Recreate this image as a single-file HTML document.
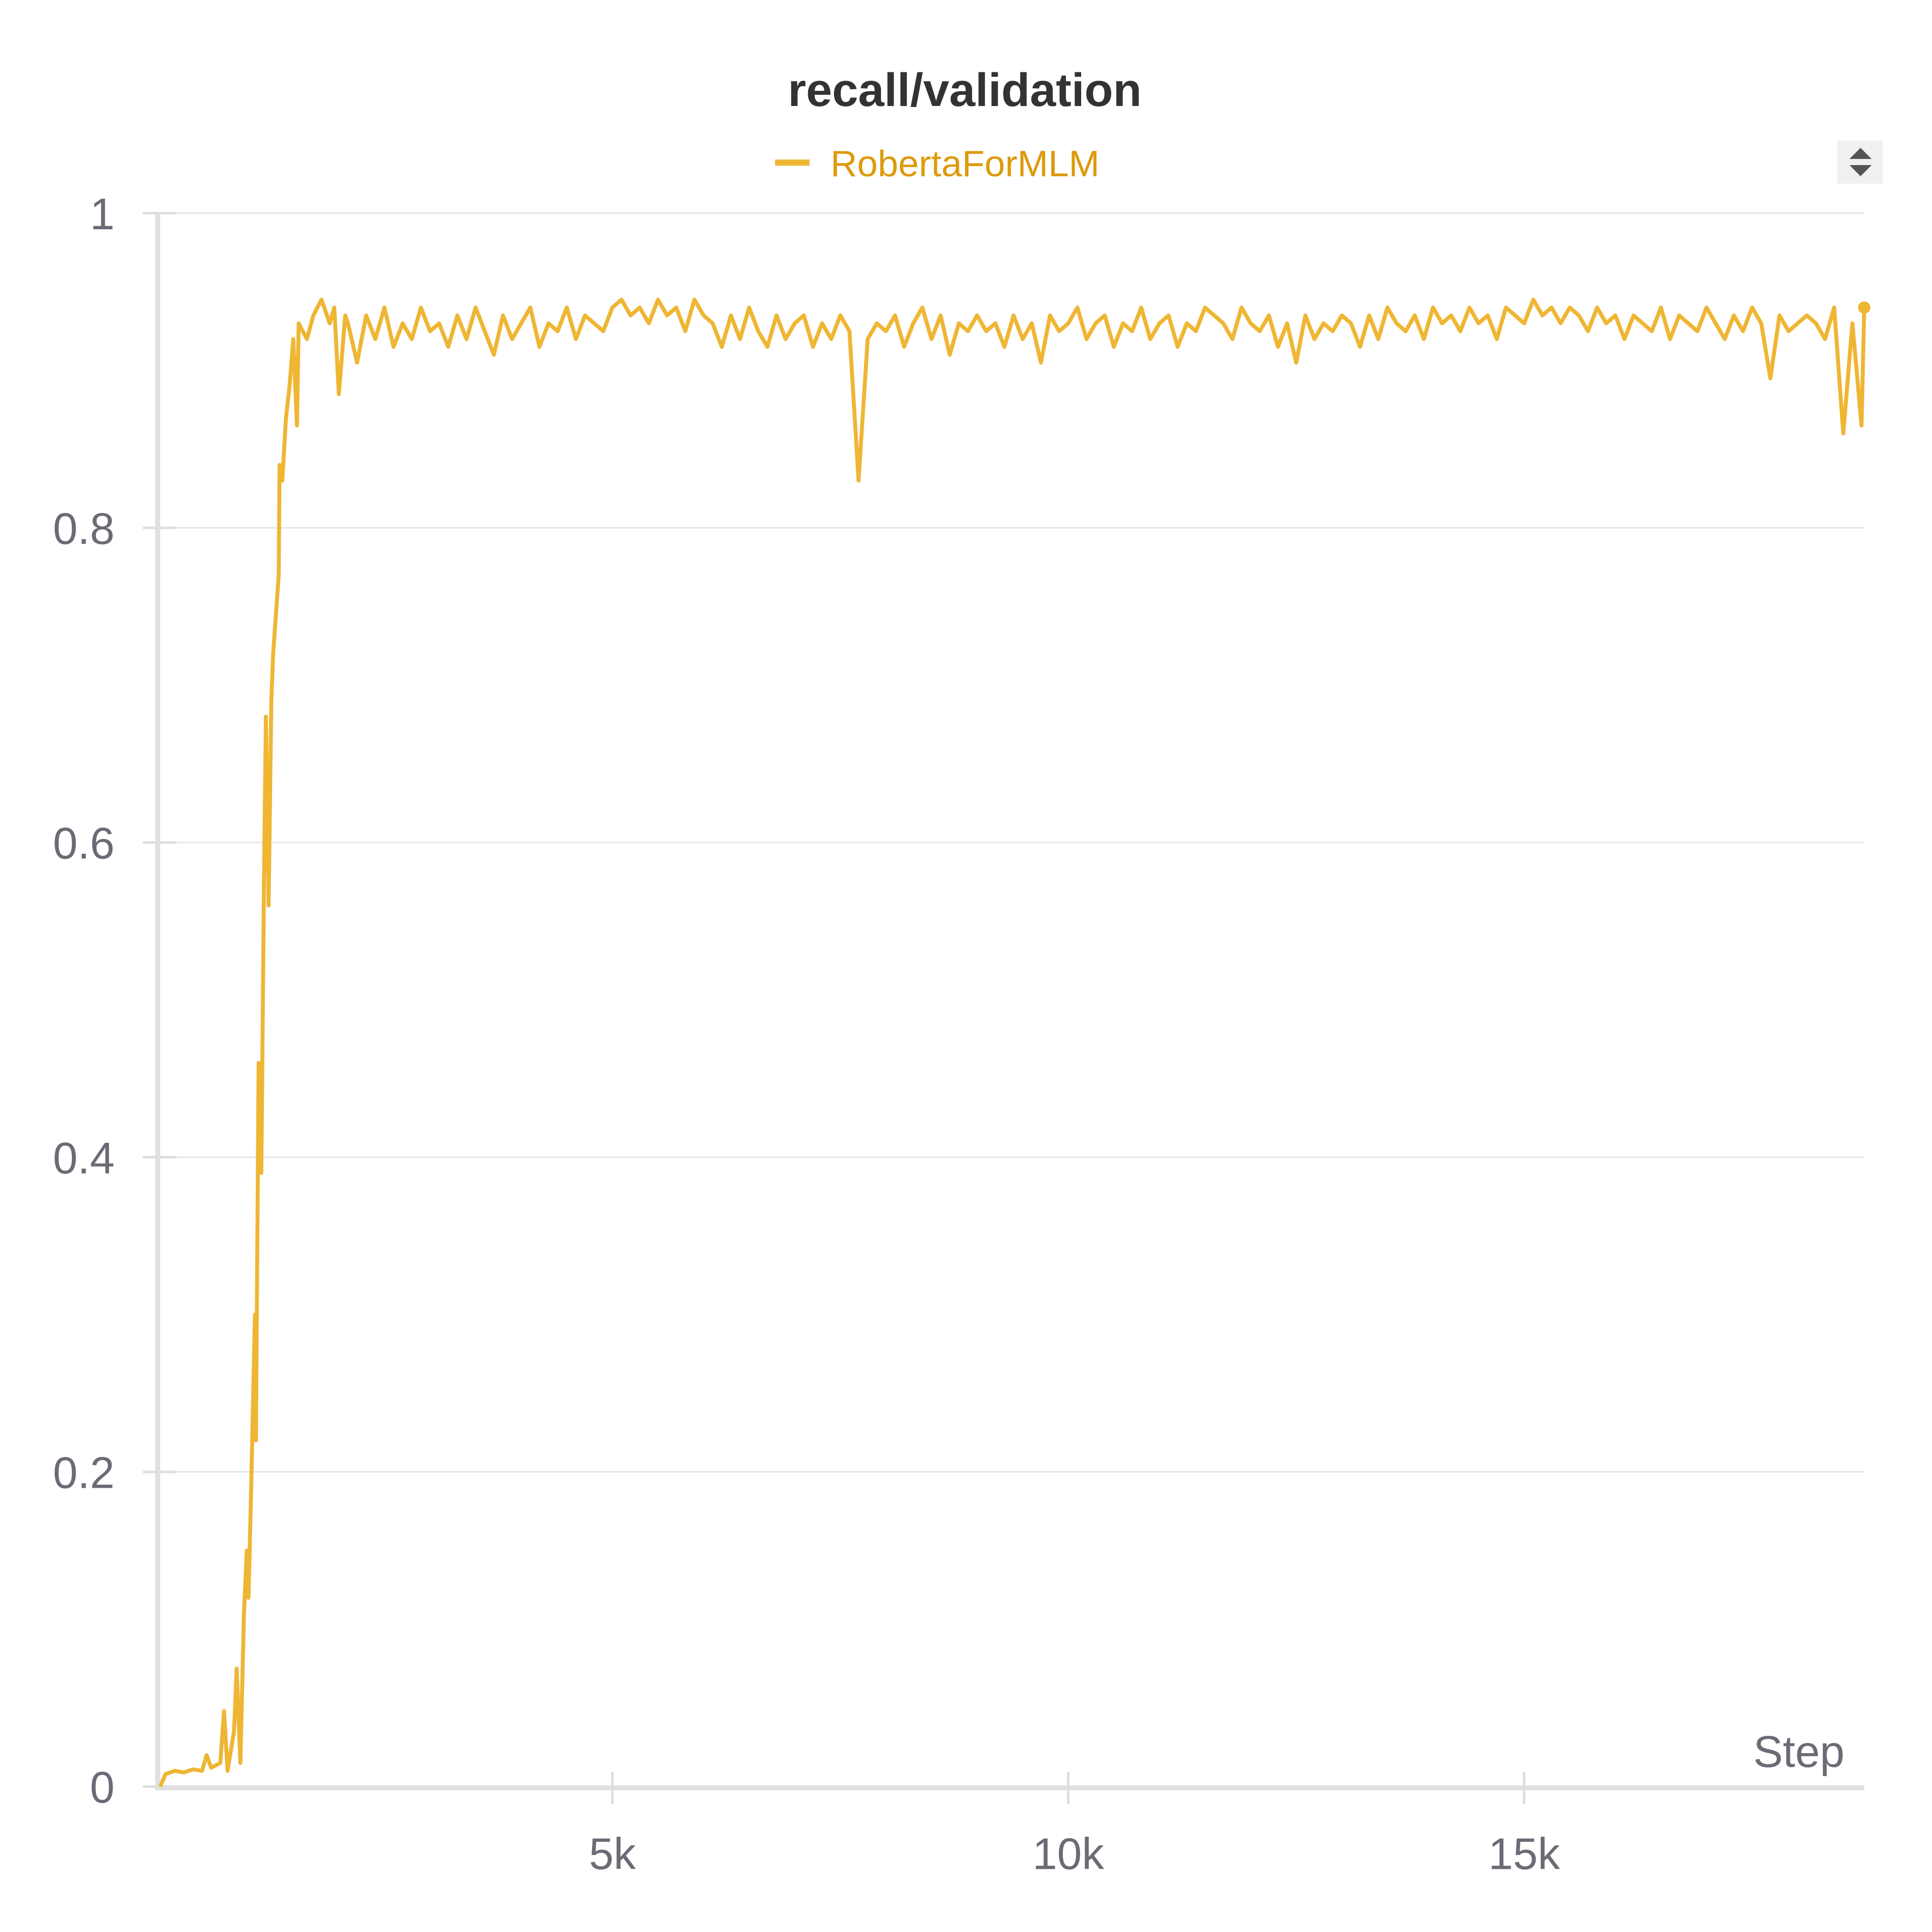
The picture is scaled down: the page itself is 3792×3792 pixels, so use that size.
<!DOCTYPE html>
<html><head><meta charset="utf-8"><style>
html,body{margin:0;padding:0;background:#fff;}
svg{display:block;}
text{font-family:"Liberation Sans",sans-serif;}
</style></head><body>
<svg id="chart" width="3792" height="3792" viewBox="0 0 1568 1568" xmlns="http://www.w3.org/2000/svg">
<text x="783" y="86" text-anchor="middle" font-size="38" font-weight="bold" fill="#333">recall/validation</text>
<g>
<line x1="629" y1="132" x2="657" y2="132" stroke="#efb634" stroke-width="5"/>
<text x="674" y="143" font-size="30" fill="#dd9a0c">RobertaForMLM</text>
</g>
<g>
<rect x="1491" y="114" width="37" height="35" fill="#f0f0f0"/>
<polygon points="1510,120 1501,129 1519,129" fill="#555"/>
<polygon points="1510,143 1501,134 1519,134" fill="#555"/>
</g>
<g id="grid"></g>
<g id="axes"></g>
<g id="series"></g>
<text x="1497" y="1434" text-anchor="end" font-size="36" fill="#6b6b76">Step</text>
</svg>
<script>
const yTicks=[0,0.2,0.4,0.6,0.8,1];
const yTickLabels=["0","0.2","0.4","0.6","0.8","1"];
const xTicks=[5000,10000,15000];
const xTickLabels=["5k","10k","15k"];
const rampSteps=[40,100,200,300,400,500,550,600,700,740,780,850,880,920,960,990,1010,1040,1080,1090,1120,1150,1180,1200,1230,1260,1280,1340,1350,1380,1420,1460,1500,1540,1560,1650,1720,1810,1900,1950,2000,2070];
const rampRecall=[0.0,0.008,0.01,0.009,0.011,0.01,0.02,0.012,0.015,0.048,0.01,0.035,0.075,0.015,0.11,0.15,0.12,0.195,0.3,0.22,0.46,0.39,0.58,0.68,0.56,0.69,0.72,0.77,0.84,0.83,0.87,0.89,0.92,0.865,0.93,0.92,0.935,0.945,0.93,0.94,0.885,0.935];
const plateauStart=2100, plateauStep=100;
const plateauRecall=[
.93,.905,.935,.92,.94,.915,.93,.92,.94,.925,
.93,.915,.935,.92,.94,.925,.91,.935,.92,.93,
.94,.915,.93,.925,.94,.92,.935,.93,.925,.94,
.945,.935,.94,.93,.945,.935,.94,.925,.945,.935,
.93,.915,.935,.92,.94,.925,.915,.935,.92,.93,
.935,.915,.93,.92,.935,.925,.83,.92,.93,.925,
.935,.915,.93,.94,.92,.935,.91,.93,.925,.935,
.925,.93,.915,.935,.92,.93,.905,.935,.925,.93,
.94,.92,.93,.935,.915,.93,.925,.94,.92,.93,
.935,.915,.93,.925,.94,.935,.93,.92,.94,.93,
.925,.935,.915,.93,.905,.935,.92,.93,.925,.935,
.93,.915,.935,.92,.94,.93,.925,.935,.92,.94,
.93,.935,.925,.94,.93,.935,.92,.94,.935,.93,
.945,.935,.94,.93,.94,.935,.925,.94,.93,.935,
.92,.935,.93,.925,.94,.92,.935,.93,.925,.94,
.93,.92,.935,.925,.94,.93,.895,.935,.925,.93,
.935,.93,.92,.94,.86,.93,.865];
const finalStep=18730, finalRecall=0.94;
const steps=rampSteps.concat(plateauRecall.map((_,i)=>plateauStart+i*plateauStep),[finalStep]);
const recall=rampRecall.concat(plateauRecall,[finalRecall]);
const X0=127,X1=1513,Y0=1450,Y1=173,XMAX=18730;
const sx=v=>X0+(v/XMAX)*(X1-X0);
const sy=v=>Y0-v*(Y0-Y1);
const NS="http://www.w3.org/2000/svg";
function mk(tag,attrs,parent){const e=document.createElementNS(NS,tag);for(const k in attrs)e.setAttribute(k,attrs[k]);parent.appendChild(e);return e;}
const grid=document.getElementById('grid'),axes=document.getElementById('axes'),series=document.getElementById('series');
yTicks.forEach((t,i)=>{
 if(t>0){const g=mk('line',{x1:X0,x2:X1,y1:sy(t),y2:sy(t),stroke:'#e6e6e6','stroke-width':1.2},grid);
 
 }
 const tk=mk('line',{x1:116,x2:143,y1:sy(t),y2:sy(t),stroke:'#ddd','stroke-width':2},axes);
 
 
 const lb=mk('text',{x:93,y:sy(t)+13,'text-anchor':'end','font-size':36,fill:'#6b6b76'},axes);
 lb.textContent=yTickLabels[i];
 
 
});
const la=mk('line',{x1:128,x2:128,y1:Y1,y2:1453,stroke:'#e0e0e0','stroke-width':4},axes);


const ba=mk('line',{x1:126,x2:X1,y1:1451,y2:1451,stroke:'#e0e0e0','stroke-width':4},axes);


xTicks.forEach((t,i)=>{
 const tk=mk('line',{x1:sx(t),x2:sx(t),y1:1438,y2:1464,stroke:'#ddd','stroke-width':2},axes);
 
 
 const lb=mk('text',{x:sx(t),y:1517,'text-anchor':'middle','font-size':36,fill:'#6b6b76'},axes);
 lb.textContent=xTickLabels[i];
 
 
});
const d=steps.map((s,i)=>(i?'L':'M')+sx(s).toFixed(1)+' '+sy(recall[i]).toFixed(1)).join(' ');
const p=mk('path',{d:d,fill:'none',stroke:'#efb634','stroke-width':3.2,'stroke-linejoin':'round'},series);


const last=steps.length-1;
const c=mk('circle',{cx:sx(steps[last]),cy:sy(recall[last]),r:5,fill:'#efb634'},series);


</script>
</body></html>
